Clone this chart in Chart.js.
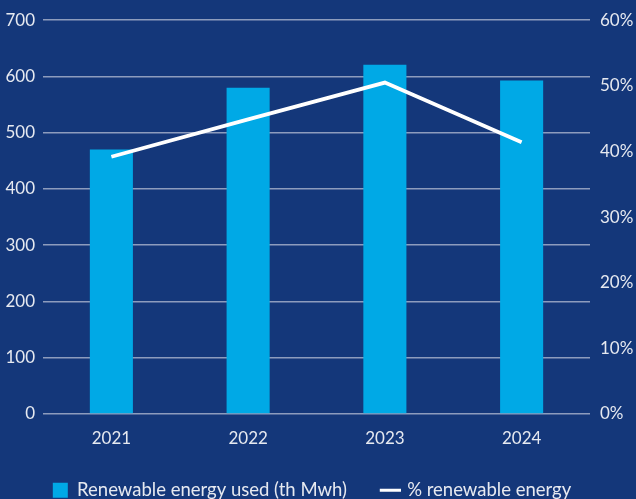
<!DOCTYPE html>
<html>
<head>
<meta charset="utf-8">
<script src="https://cdn.jsdelivr.net/npm/chart.js@4/dist/chart.umd.min.js"></script>
<style>
    body { margin: 0; background: #14377a; }
    #grafico { display: block; }
</style>
</head>
<body>
<canvas id="grafico" width="636" height="499"></canvas>
<script>
const anios = ['2021', '2022', '2023', '2024'];
const energiaRenovable = [470, 580, 621, 593];
const porcentajeRenovable = [39.2, 44.9, 50.5, 41.4];
const etiquetaBarras = 'Renewable energy used (th Mwh)';
const etiquetaLinea = '% renewable energy';

const colorTexto = '#e6e9f0';
const colorGrid = '#8d9cbd';
const fuente = { family: 'Lato', size: 17 };

const fondo = {
    id: 'fondo',
    beforeDraw(chart) {
        const ctx = chart.ctx;
        ctx.save();
        ctx.fillStyle = '#14377a';
        ctx.fillRect(0, 0, chart.width, chart.height);
        ctx.restore();
    }
};

// la leyenda va mas abajo, con el alto fijo
const altoLeyenda = {
    id: 'altoLeyenda',
    beforeInit(chart) {
        const leyenda = chart.legend;
        if (!leyenda) return;
        const fitOriginal = leyenda.fit.bind(leyenda);
        leyenda.fit = function () {
            fitOriginal();
            this.height = 54;
            this.lineWidths = this.lineWidths.map(w => w + 12);
        };
    }
};

new Chart(document.getElementById('grafico'), {
    plugins: [fondo, altoLeyenda],
    data: {
        labels: anios,
        datasets: [
            {
                type: 'line',
                label: etiquetaLinea,
                data: porcentajeRenovable,
                yAxisID: 'y1',
                borderColor: '#ffffff',
                backgroundColor: '#ffffff',
                borderWidth: 3.8,
                pointRadius: 0,
                pointStyle: 'line',
                pointBorderWidth: 3,
                tension: 0,
                order: 0
            },
            {
                type: 'bar',
                label: etiquetaBarras,
                data: energiaRenovable,
                yAxisID: 'y',
                backgroundColor: '#00a9e6',
                borderWidth: 0,
                pointStyle: 'rect',
                barPercentage: 0.63,
                categoryPercentage: 0.5,
                order: 1
            }
        ]
    },
    options: {
        responsive: false,
        animation: false,
        layout: { padding: { top: 11, right: 0, left: 0, bottom: 0 } },
        scales: {
            x: {
                grid: { display: false, drawTicks: false },
                border: { display: false },
                ticks: { color: colorTexto, font: fuente, padding: 14 },
                afterFit: s => {
                    s.height = 31;
                    s._computeLabelArea = () => null;
                }
            },
            y: {
                position: 'left',
                min: 0,
                max: 700,
                ticks: { stepSize: 100, color: colorTexto, font: fuente, padding: 8 },
                grid: { color: colorGrid, lineWidth: 1.5, drawTicks: false },
                border: { display: false },
                afterFit: s => { s.width = 43; }
            },
            y1: {
                position: 'right',
                min: 0,
                max: 60,
                ticks: {
                    stepSize: 10,
                    color: colorTexto,
                    font: fuente,
                    padding: 10,
                    callback: v => v + '%'
                },
                grid: { display: false, drawTicks: false },
                border: { display: false },
                afterFit: s => { s.width = 46; }
            }
        },
        plugins: {
            legend: {
                position: 'bottom',
                reverse: true,
                labels: {
                    color: colorTexto,
                    font: { family: 'Lato', size: 18.5 },
                    usePointStyle: true,
                    boxWidth: 15,
                    boxHeight: 15,
                    padding: 36
                }
            },
            tooltip: { enabled: false }
        }
    }
});
</script>
</body>
</html>
